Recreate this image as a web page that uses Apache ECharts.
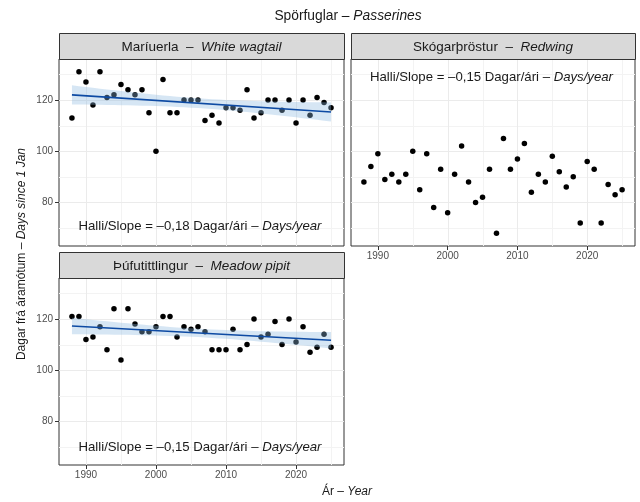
<!DOCTYPE html>
<html>
<head>
<meta charset="utf-8">
<script src="https://cdn.jsdelivr.net/npm/echarts@6/dist/echarts.min.js"></script>
<style>
  html, body { margin: 0; padding: 0; background: #ffffff; }
  #chart { width: 640px; height: 502px; }
</style>
</head>
<body>
<div id="chart"></div>
<script>
// Spring arrival dates (days since 1 Jan) of three passerine species
const years = [1988, 1989, 1990, 1991, 1992, 1993, 1994, 1995, 1996, 1997,
               1998, 1999, 2000, 2001, 2002, 2003, 2004, 2005, 2006, 2007,
               2008, 2009, 2010, 2011, 2012, 2013, 2014, 2015, 2016, 2017,
               2018, 2019, 2020, 2021, 2022, 2023, 2024, 2025];

const wagtailDays = [113, 131, 127, 118, 131, 121, 122, 126, 124, 122,
                     124, 115, 100, 128, 115, 115, 120, 120, 120, 112,
                     114, 111, 117, 117, 116, 124, 113, 115, 120, 120,
                     116, 120, 111, 120, 114, 121, 119, 117];

const redwingDays = [88, 94, 99, 89, 91, 88, 91, 100, 85, 99,
                     78, 93, 76, 91, 102, 88, 80, 82, 93, 68,
                     105, 93, 97, 103, 84, 91, 88, 98, 92, 86,
                     90, 72, 96, 93, 72, 87, 83, 85];

const pipitDays = [121, 121, 112, 113, 117, 108, 124, 104, 124, 118,
                   115, 115, 117, 121, 121, 113, 117, 116, 117, 115,
                   108, 108, 108, 116, 108, 110, 120, 113, 114, 119,
                   110, 120, 111, 117, 107, 109, 114, 109];

// Trend slopes (days per year)
const wagtailSlope = -0.18;
const redwingSlope = -0.15;
const pipitSlope = -0.15;

// Panel headings
const speciesIs = ['Maríuerla', 'Skógarþröstur', 'Þúfutittlingur'];
const speciesEn = ['White wagtail', 'Redwing', 'Meadow pipit'];

// Axis ticks
const xTicks = [1990, 2000, 2010, 2020];
const xMinorTicks = [1995, 2005, 2015, 2025];
const yTicks = [80, 100, 120];
const yMinorTicks = [70, 90, 110, 130];

// ---- layout ----
const FONT = '"Liberation Sans", Arial, Helvetica, sans-serif';
const X_MIN = 1986.15, X_MAX = 2026.85;
const Y_MIN = 63, Y_MAX = 136;
const grids = [
  { left: 59, top: 59, width: 285, height: 187 },
  { left: 351, top: 59, width: 284, height: 187 },
  { left: 59, top: 278, width: 285, height: 187 }
];
const STRIP_H = 26;

// Linear fit with fixed slope through the means, plus 95% confidence band
function trend(xs, ys, slope) {
  const n = xs.length;
  const xbar = xs.reduce((a, b) => a + b, 0) / n;
  const ybar = ys.reduce((a, b) => a + b, 0) / n;
  const a = ybar - slope * xbar;
  let sxx = 0, sse = 0;
  for (let i = 0; i < n; i++) {
    sxx += (xs[i] - xbar) ** 2;
    sse += (ys[i] - a - slope * xs[i]) ** 2;
  }
  const s = Math.sqrt(sse / (n - 2));
  const t = 2.028;
  const fit = [], lower = [], upper = [];
  xs.forEach(x => {
    const yh = a + slope * x;
    const half = t * s * Math.sqrt(1 / n + (x - xbar) ** 2 / sxx);
    fit.push([x, yh]);
    lower.push([x, yh - half]);
    upper.push([x, yh + half]);
  });
  return { fit, lower, upper };
}

const panels = [
  { days: wagtailDays, slope: wagtailSlope, showFit: true },
  { days: redwingDays, slope: redwingSlope, showFit: false },
  { days: pipitDays, slope: pipitSlope, showFit: true }
];

const xAxes = [], yAxes = [], series = [];

panels.forEach((p, gi) => {
  const showX = gi !== 0;
  const showY = gi !== 1;
  xAxes.push({
    type: 'value', gridIndex: gi, min: X_MIN, max: X_MAX,
    axisLine: { show: false },
    splitLine: { show: false },
    axisTick: { show: showX, customValues: xTicks, length: 4, lineStyle: { color: '#333333', width: 1 } },
    axisLabel: { show: showX, customValues: xTicks, color: '#4D4D4D', fontSize: 10, fontFamily: FONT,
                 margin: 5, formatter: v => String(v) }
  });
  yAxes.push({
    type: 'value', gridIndex: gi, min: Y_MIN, max: Y_MAX,
    axisLine: { show: false },
    splitLine: { show: false },
    axisTick: { show: showY, customValues: yTicks, length: 4, lineStyle: { color: '#333333', width: 1 } },
    axisLabel: { show: showY, customValues: yTicks, color: '#4D4D4D', fontSize: 10, fontFamily: FONT,
                 margin: 6, formatter: v => String(v) }
  });

  // background grid lines
  series.push({
    type: 'custom', xAxisIndex: gi, yAxisIndex: gi, silent: true, z: 1,
    data: [[xTicks[0], yTicks[0]]],
    renderItem: function (params, api) {
      const cs = params.coordSys;
      const kids = [];
      const vline = (x, w, c) => {
        const px = Math.round(api.coord([x, Y_MIN])[0]) + 0.5;
        kids.push({ type: 'line', shape: { x1: px, y1: cs.y, x2: px, y2: cs.y + cs.height },
                    style: { stroke: c, lineWidth: w } });
      };
      const hline = (y, w, c) => {
        const py = Math.round(api.coord([X_MIN, y])[1]) + 0.5;
        kids.push({ type: 'line', shape: { x1: cs.x, y1: py, x2: cs.x + cs.width, y2: py },
                    style: { stroke: c, lineWidth: w } });
      };
      xMinorTicks.forEach(x => vline(x, 1, '#F3F3F3'));
      yMinorTicks.forEach(y => hline(y, 1, '#F3F3F3'));
      xTicks.forEach(x => vline(x, 1, '#EBEBEB'));
      yTicks.forEach(y => hline(y, 1, '#EBEBEB'));
      return { type: 'group', children: kids };
    }
  });

  // observations
  series.push({
    type: 'scatter', xAxisIndex: gi, yAxisIndex: gi, silent: true, z: 2,
    symbolSize: 5.5,
    itemStyle: { color: '#000000', opacity: 1 },
    data: years.map((y, i) => [y, p.days[i]])
  });

  if (p.showFit) {
    const tr = trend(years, p.days, p.slope);
    series.push({
      type: 'custom', xAxisIndex: gi, yAxisIndex: gi, silent: true, z: 3,
      data: [[tr.fit[0][0], tr.fit[0][1]]],
      renderItem: function (params, api) {
        const pts = tr.upper.map(d => api.coord(d))
          .concat(tr.lower.slice().reverse().map(d => api.coord(d)));
        return { type: 'polygon', shape: { points: pts },
                 style: { fill: 'rgba(140,185,225,0.36)' } };
      }
    });
    series.push({
      type: 'line', xAxisIndex: gi, yAxisIndex: gi, silent: true, z: 4,
      symbol: 'none',
      lineStyle: { color: '#0D4AA3', width: 1.6 },
      data: [tr.fit[0], tr.fit[tr.fit.length - 1]]
    });
  }
});

// strips, titles and annotations
const graphics = [];
const richBase = (size) => ({
  n: { fontSize: size, fontFamily: FONT, fill: '#1A1A1A' },
  i: { fontSize: size, fontFamily: FONT, fontStyle: 'italic', fill: '#1A1A1A' }
});

grids.forEach((g, gi) => {
  graphics.push({
    type: 'rect', z: 10,
    shape: { x: g.left + 0.5, y: g.top - STRIP_H + 0.5, width: g.width, height: STRIP_H },
    style: { fill: '#D9D9D9', stroke: '#333333', lineWidth: 1 }
  });
  graphics.push({
    type: 'text', z: 11,
    x: g.left + g.width / 2, y: g.top - STRIP_H / 2 + 1,
    style: {
      text: '{n|' + speciesIs[gi] + '  –  }{i|' + speciesEn[gi] + '}',
      rich: richBase(13.5), align: 'center', verticalAlign: 'middle'
    }
  });
});

const fmtSlope = v => '–' + Math.abs(v).toFixed(2).replace('.', ',');
const slopeLabelY = [226, 77, 447];
panels.forEach((p, gi) => {
  const g = grids[gi];
  graphics.push({
    type: 'text', z: 11,
    x: g.left + g.width / 2 - 1.5, y: slopeLabelY[gi],
    style: {
      text: '{n|Halli/Slope = ' + fmtSlope(p.slope) + ' Dagar/ári – }{i|Days/year}',
      rich: richBase(13.2), align: 'center', verticalAlign: 'middle'
    }
  });
});

graphics.push({
  type: 'text', x: 348, y: 16,
  style: { text: '{n|Spörfuglar – }{i|Passerines}', rich: richBase(13.8), align: 'center', verticalAlign: 'middle' }
});
graphics.push({
  type: 'text', x: 347, y: 492,
  style: { text: '{n|Ár – }{i|Year}', rich: richBase(12), align: 'center', verticalAlign: 'middle' }
});
graphics.push({
  type: 'text', x: 22, y: 254, rotation: Math.PI / 2,
  style: { text: '{n|Dagar frá áramótum – }{i|Days since 1 Jan}', rich: richBase(12), align: 'center', verticalAlign: 'middle' }
});

const chart = echarts.init(document.getElementById('chart'), null, { renderer: 'canvas' });
chart.setOption({
  animation: false,
  backgroundColor: '#ffffff',
  grid: grids.map(g => Object.assign({ show: true, borderColor: '#333333', borderWidth: 1,
                                       backgroundColor: 'transparent' }, g)),
  xAxis: xAxes,
  yAxis: yAxes,
  series: series,
  graphic: graphics
});
</script>
</body>
</html>
